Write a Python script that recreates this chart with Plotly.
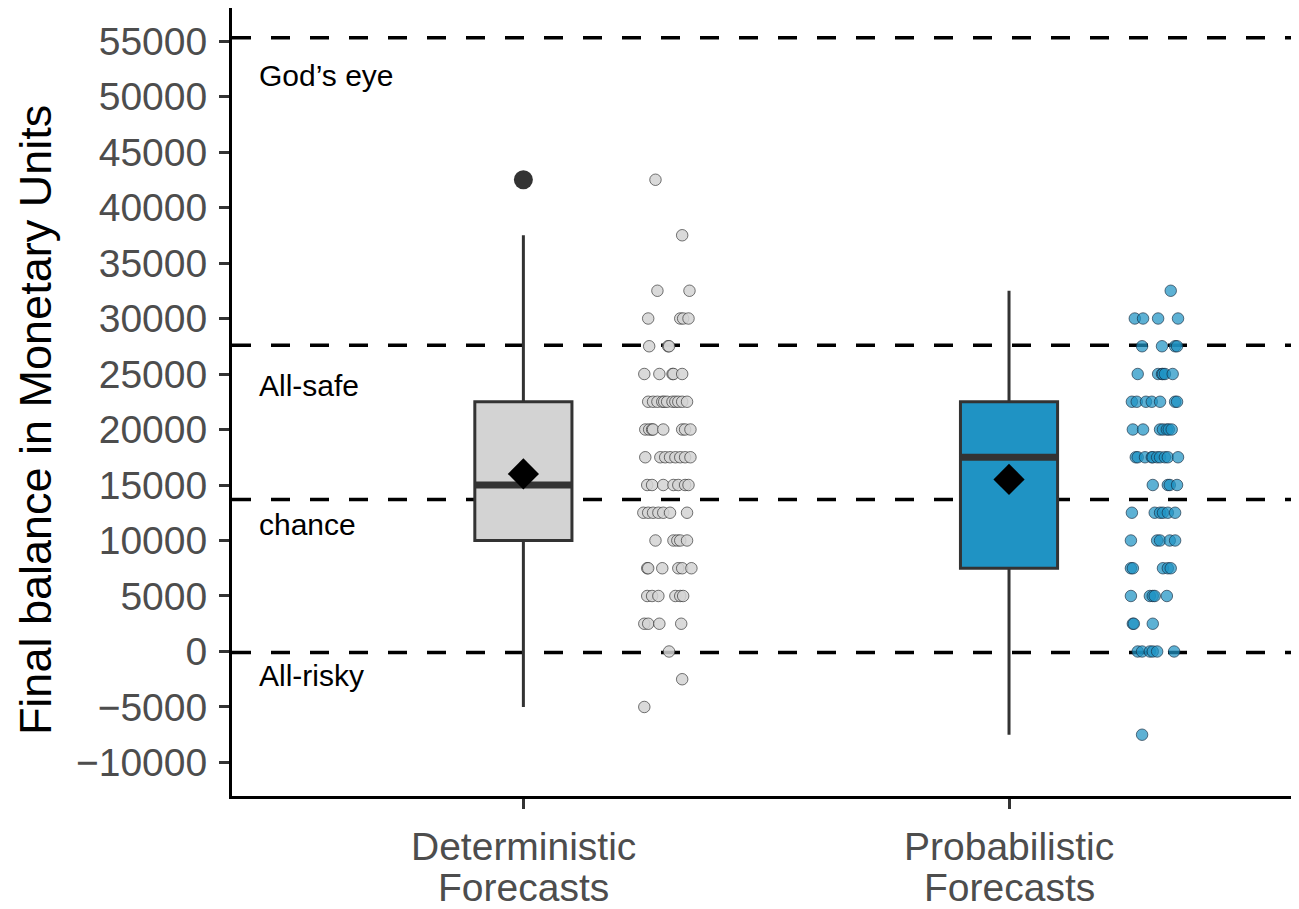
import plotly.graph_objects as go

# ---------------- data ----------------
cat_line1 = ["Deterministic", "Probabilistic"]
cat_line2 = ["Forecasts", "Forecasts"]
cat_pos = [1, 2]

# box statistics
q1 = [10000, 7500]
median = [15000, 17500]
q3 = [22500, 22500]
lower = [-5000, -7500]
upper = [37500, 32500]
means = [16000, 15500]
outlier_cat = [1]
outlier_val = [42500]

# jittered individual points (value, horizontal offset from category centre)
det_vals = [42500, 37500,
            32500, 32500,
            30000, 30000, 30000, 30000,
            27500, 27500, 27500,
            25000, 25000, 25000, 25000, 25000,
            22500, 22500, 22500, 22500, 22500, 22500, 22500, 22500, 22500, 22500, 22500,
            20000, 20000, 20000, 20000, 20000, 20000, 20000, 20000,
            17500, 17500, 17500, 17500, 17500, 17500, 17500, 17500,
            15000, 15000, 15000, 15000, 15000, 15000, 15000,
            12500, 12500, 12500, 12500, 12500, 12500, 12500,
            10000, 10000, 10000, 10000, 10000,
            7500, 7500, 7500, 7500, 7500, 7500,
            5000, 5000, 5000, 5000, 5000, 5000,
            2500, 2500, 2500, 2500,
            0, -2500, -5000]
det_off = [0.272, 0.327,
           0.276, 0.342,
           0.257, 0.323, 0.329, 0.340,
           0.259, 0.298, 0.300,
           0.249, 0.280, 0.307, 0.309, 0.327,
           0.257, 0.267, 0.276, 0.286, 0.290, 0.296, 0.307, 0.313, 0.319, 0.327, 0.337,
           0.251, 0.259, 0.265, 0.267, 0.288, 0.327, 0.333, 0.344,
           0.251, 0.282, 0.292, 0.302, 0.313, 0.323, 0.333, 0.344,
           0.255, 0.265, 0.288, 0.309, 0.319, 0.333, 0.340,
           0.247, 0.257, 0.267, 0.278, 0.288, 0.302, 0.337,
           0.272, 0.309, 0.317, 0.323, 0.337,
           0.255, 0.257, 0.286, 0.319, 0.327, 0.346,
           0.255, 0.265, 0.278, 0.313, 0.323, 0.329,
           0.249, 0.257, 0.280, 0.325,
           0.300, 0.327, 0.249]

prob_vals = [32500,
             30000, 30000, 30000, 30000,
             27500, 27500, 27500, 27500,
             25000, 25000, 25000, 25000, 25000, 25000,
             22500, 22500, 22500, 22500, 22500, 22500, 22500,
             20000, 20000, 20000, 20000, 20000, 20000, 20000,
             17500, 17500, 17500, 17500, 17500, 17500, 17500, 17500, 17500, 17500,
             15000, 15000, 15000, 15000,
             12500, 12500, 12500, 12500, 12500, 12500,
             10000, 10000, 10000, 10000, 10000,
             7500, 7500, 7500, 7500, 7500,
             5000, 5000, 5000, 5000, 5000,
             2500, 2500, 2500,
             0, 0, 0, 0, 0, 0,
             -7500]
prob_off = [0.333,
            0.259, 0.276, 0.307, 0.348,
            0.274, 0.315, 0.342, 0.346,
            0.265, 0.307, 0.315, 0.317, 0.321, 0.337,
            0.253, 0.263, 0.282, 0.294, 0.311, 0.342, 0.346,
            0.255, 0.276, 0.311, 0.317, 0.325, 0.329, 0.335,
            0.261, 0.265, 0.280, 0.294, 0.296, 0.305, 0.311, 0.321, 0.327, 0.348,
            0.296, 0.327, 0.331, 0.346,
            0.253, 0.300, 0.311, 0.317, 0.327, 0.342,
            0.251, 0.305, 0.311, 0.331, 0.342,
            0.251, 0.255, 0.317, 0.327, 0.333,
            0.251, 0.290, 0.296, 0.300, 0.325,
            0.255, 0.257, 0.296,
            0.265, 0.274, 0.290, 0.296, 0.305, 0.340,
            0.274]

# reference lines
ref_values = [55300, 27600, 13700, -100]
ref_labels = ["God’s eye", "All-safe", "chance", "All-risky"]
ref_label_y = [51900, 24000, 11400, -2200]

y_ticks = list(range(-10000, 55001, 5000))

# ---------------- styles ----------------
box_fill = ["#D3D3D3", "#1F93C4"]
pt_fill = ["rgba(211,211,211,0.85)", "rgba(31,147,196,0.72)"]
dark = "#333333"
tick_grey = "#4D4D4D"
font_family = "Liberation Sans, Arial, sans-serif"
box_w = 0.2

fig = go.Figure()

# dashed reference lines
for v in ref_values:
    fig.add_hline(y=v, line=dict(color="black", width=3.5, dash="19px,20px"), layer="below")

for i in range(2):
    fig.add_trace(go.Box(
        x=[cat_pos[i]], q1=[q1[i]], median=[median[i]], q3=[q3[i]],
        lowerfence=[lower[i]], upperfence=[upper[i]],
        width=box_w, whiskerwidth=0, fillcolor=box_fill[i],
        line=dict(color=dark, width=3), boxpoints=False, showlegend=False,
        hoverinfo="skip"))
    # thicker median bar (ggplot fatten)
    fig.add_trace(go.Scatter(
        x=[cat_pos[i] - box_w / 2, cat_pos[i] + box_w / 2],
        y=[median[i], median[i]], mode="lines",
        line=dict(color=dark, width=7), showlegend=False, hoverinfo="skip"))

# outlier
fig.add_trace(go.Scatter(x=outlier_cat, y=outlier_val, mode="markers",
                         marker=dict(color=dark, size=19), showlegend=False))

# means
fig.add_trace(go.Scatter(x=cat_pos, y=means, mode="markers",
                         marker=dict(symbol="diamond", color="black", size=24),
                         showlegend=False))

# jittered points
fig.add_trace(go.Scatter(
    x=[cat_pos[0] + o for o in det_off], y=det_vals, mode="markers",
    marker=dict(size=11.5, color=pt_fill[0], line=dict(color="rgba(40,40,40,0.8)", width=0.8)),
    showlegend=False))
fig.add_trace(go.Scatter(
    x=[cat_pos[1] + o for o in prob_off], y=prob_vals, mode="markers",
    marker=dict(size=11.5, color=pt_fill[1], line=dict(color="rgba(20,40,60,0.8)", width=0.8)),
    showlegend=False))

# reference line labels
for lab, yy in zip(ref_labels, ref_label_y):
    fig.add_annotation(x=0.451, y=yy, text=lab, showarrow=False, xanchor="left",
                       yanchor="middle", font=dict(size=30, color="black", family=font_family))

# category labels (two lines, tight spacing as in the reference)
for xp, l1, l2 in zip(cat_pos, cat_line1, cat_line2):
    fig.add_annotation(x=xp, xref="x", yref="paper", y=0, yshift=-50, text=l1,
                       showarrow=False, xanchor="center", yanchor="middle",
                       font=dict(size=39, color=tick_grey, family=font_family))
    fig.add_annotation(x=xp, xref="x", yref="paper", y=0, yshift=-91, text=l2,
                       showarrow=False, xanchor="center", yanchor="middle",
                       font=dict(size=39, color=tick_grey, family=font_family))

# y title
fig.add_annotation(xref="paper", yref="paper", x=0, y=0.477, xshift=-197,
                   text="Final balance in Monetary Units", textangle=-90,
                   showarrow=False, xanchor="center", yanchor="middle",
                   font=dict(size=45, color="black", family=font_family))

fig.update_layout(
    width=1299, height=909,
    margin=dict(l=224, r=10, t=0, b=121),
    plot_bgcolor="white", paper_bgcolor="white",
    font=dict(family=font_family),
    xaxis=dict(range=[0.4, 2.593], tickvals=cat_pos, ticktext=["", ""],
               showgrid=False, zeroline=False, showline=True, linecolor="black",
               linewidth=3, ticks="outside", ticklen=10, tickwidth=3, tickcolor=dark,
               tickfont=dict(size=39, color=tick_grey)),
    yaxis=dict(range=[-13020, 57975], tickvals=y_ticks,
               ticktext=[str(t).replace("-", "\u2212") for t in y_ticks],
               showgrid=False, zeroline=False, showline=True, linecolor="black",
               linewidth=3, ticks="outside", ticklen=10, tickwidth=3, tickcolor=dark,
               ticklabelstandoff=4,
               tickfont=dict(size=39, color=tick_grey)),
)

fig.write_html("out.html")
